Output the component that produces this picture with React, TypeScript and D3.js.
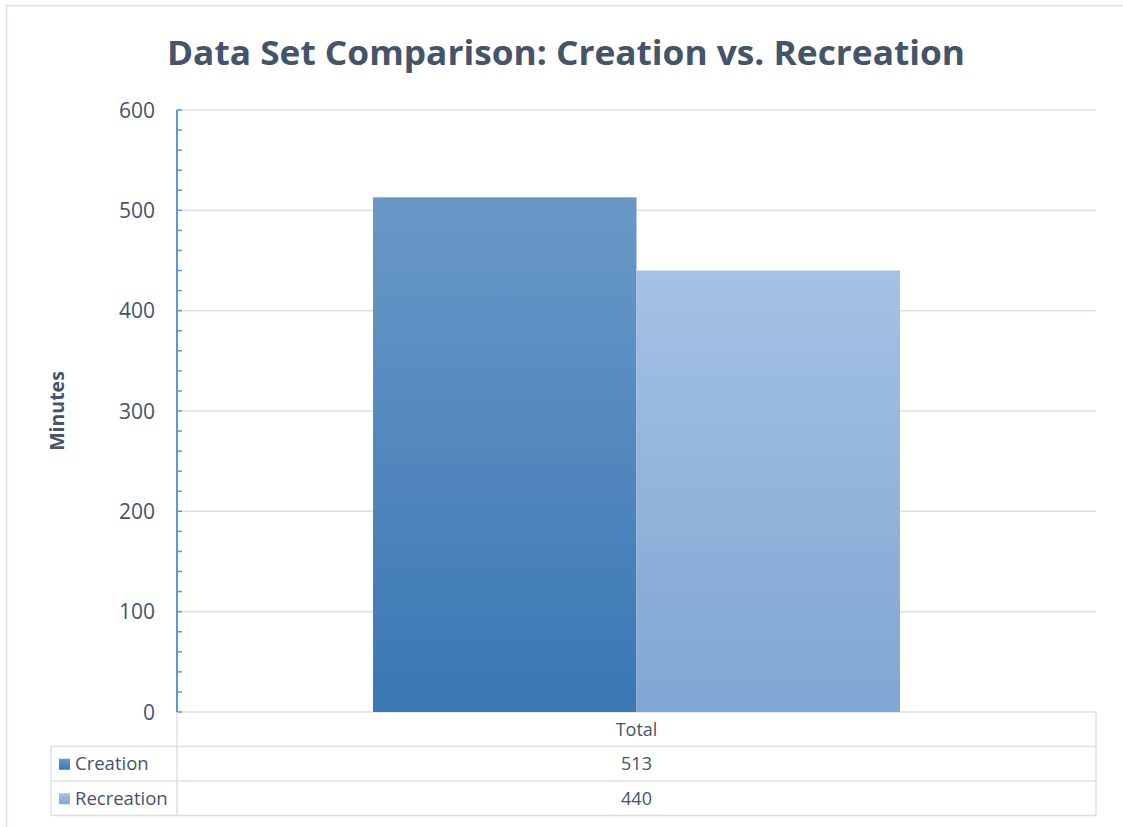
import React from "react";
import * as d3 from "d3";

// Chart data
const categories = ["Total"];
const seriesNames = ["Creation", "Recreation"];
const creationValues = [513];
const recreationValues = [440];
const yTicks = [0, 100, 200, 300, 400, 500, 600];

const W = 1123;
const H = 827;
const margin = { left: 177, right: 1096, top: 110, bottom: 712 };
const textColor = "#44546a";
const gridColor = "#dce0e6";
const axisColor = "#5b9bd5";
const font = "'Open Sans', 'Noto Sans', sans-serif";

export default function App() {
  const y = d3.scaleLinear().domain([0, 600]).range([margin.bottom, margin.top]);
  const x0 = d3
    .scaleBand<string>()
    .domain(categories)
    .range([margin.left, margin.right])
    .paddingInner(0)
    .paddingOuter(0.372);
  const x1 = d3
    .scaleBand<string>()
    .domain(seriesNames)
    .range([0, x0.bandwidth()])
    .padding(0);

  const minorTicks = d3.range(0, 601, 20);
  const seriesValues = [creationValues, recreationValues];
  const gradIds = ["gradCreation", "gradRecreation"];

  const rowTop = margin.bottom;
  const rowH = 34.5;
  const tableLeft = 51;
  const catCenter = (c: string) => (x0(c) ?? 0) + x0.bandwidth() / 2;

  return (
    <div style={{ position: "fixed", left: 0, top: 0, width: W, height: H, background: "#fff" }}>
      <svg width={W} height={H} style={{ display: "block" }}>
        <defs>
          <linearGradient id="gradCreation" x1="0" y1="0" x2="0" y2="1">
            <stop offset="0%" stopColor="#6998c8" />
            <stop offset="100%" stopColor="#3a77b3" />
          </linearGradient>
          <linearGradient id="gradRecreation" x1="0" y1="0" x2="0" y2="1">
            <stop offset="0%" stopColor="#a5c1e5" />
            <stop offset="100%" stopColor="#7fa6d3" />
          </linearGradient>
        </defs>

        {/* outer chart frame */}
        <rect x={6.5} y={5.5} width={W + 10} height={H + 10} fill="none" stroke={gridColor} strokeWidth={1.5} />

        {/* title */}
        <text
          x={566}
          y={65}
          textAnchor="middle"
          fontFamily={font}
          fontWeight={700}
          fontSize={34}
          fill={textColor}
          textLength={798}
          lengthAdjust="spacingAndGlyphs"
        >
          Data Set Comparison: Creation vs. Recreation
        </text>

        {/* horizontal gridlines */}
        {yTicks.map((t) => (
          <line
            key={"g" + t}
            x1={margin.left}
            x2={margin.right}
            y1={y(t)}
            y2={y(t)}
            stroke={gridColor}
            strokeWidth={1.5}
          />
        ))}

        {/* bars */}
        {categories.map((c, ci) =>
          seriesNames.map((s, si) => {
            const v = seriesValues[si][ci];
            const bx = (x0(c) ?? 0) + (x1(s) ?? 0);
            return (
              <rect
                key={c + s}
                x={bx}
                y={y(v)}
                width={x1.bandwidth()}
                height={y(0) - y(v)}
                fill={`url(#${gradIds[si]})`}
              />
            );
          })
        )}

        {/* y axis line and ticks */}
        <line x1={margin.left} x2={margin.left} y1={margin.top} y2={margin.bottom} stroke={axisColor} strokeWidth={2} />
        {minorTicks.map((t) => (
          <line
            key={"t" + t}
            x1={margin.left}
            x2={margin.left + 5}
            y1={y(t)}
            y2={y(t)}
            stroke={axisColor}
            strokeWidth={1.5}
          />
        ))}
        {yTicks.map((t) => (
          <text
            key={"l" + t}
            x={155}
            y={y(t) + 7.5}
            textAnchor="end"
            fontFamily={font}
            fontSize={21}
            fill={textColor}
          >
            {t}
          </text>
        ))}

        {/* axis title */}
        <text
          transform={`translate(64, ${(margin.top + margin.bottom) / 2}) rotate(-90)`}
          textAnchor="middle"
          fontFamily={font}
          fontWeight={700}
          fontSize={19.5}
          fill={textColor}
        >
          Minutes
        </text>

        {/* data table */}
        <g stroke={gridColor} strokeWidth={1.5} fill="none">
          <line x1={margin.left} x2={margin.left} y1={rowTop} y2={rowTop + rowH * 3} />
          <line x1={margin.right} x2={margin.right} y1={rowTop} y2={rowTop + rowH * 3} />
          <line x1={tableLeft} x2={tableLeft} y1={rowTop + rowH} y2={rowTop + rowH * 3} />
          <line x1={tableLeft} x2={margin.right} y1={rowTop + rowH} y2={rowTop + rowH} />
          <line x1={tableLeft} x2={margin.right} y1={rowTop + rowH * 2} y2={rowTop + rowH * 2} />
          <line x1={tableLeft} x2={margin.right} y1={rowTop + rowH * 3} y2={rowTop + rowH * 3} />
        </g>
        {categories.map((c) => (
          <text
            key={"h" + c}
            x={catCenter(c)}
            y={rowTop + rowH / 2 + 6.5}
            textAnchor="middle"
            fontFamily={font}
            fontSize={18}
            fill={textColor}
          >
            {c}
          </text>
        ))}
        {seriesNames.map((s, si) => {
          const cy = rowTop + rowH * (si + 1) + rowH / 2;
          return (
            <g key={"row" + s}>
              <rect x={59} y={cy - 5} width={11} height={11} fill={`url(#${gradIds[si]})`} />
              <text x={75} y={cy + 6.5} fontFamily={font} fontSize={18.5} fill={textColor}>
                {s}
              </text>
              {categories.map((c, ci) => (
                <text
                  key={c}
                  x={catCenter(c)}
                  y={cy + 6.5}
                  textAnchor="middle"
                  fontFamily={font}
                  fontSize={18}
                  fill={textColor}
                >
                  {seriesValues[si][ci]}
                </text>
              ))}
            </g>
          );
        })}
      </svg>
    </div>
  );
}
